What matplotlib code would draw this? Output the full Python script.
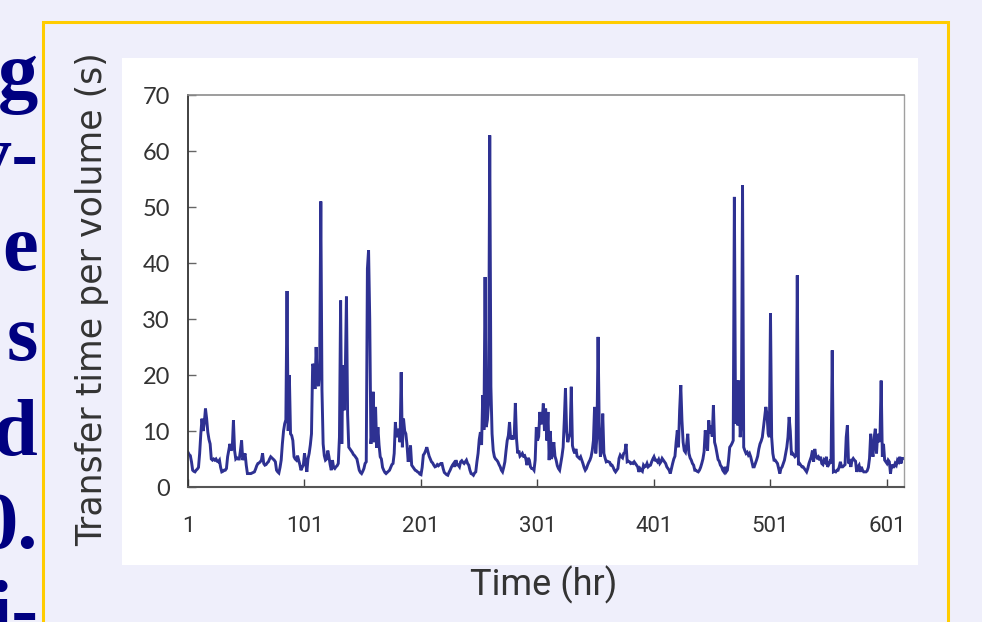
import numpy as np
import matplotlib
matplotlib.use("Agg")
import matplotlib.pyplot as plt
from matplotlib.patches import Rectangle

# transfer time per volume (s), one value per hour
hours_001_100 = [
    6.2, 5.8, 5.6, 4.5, 3.0, 2.8, 2.7, 3.0, 3.2, 3.5,
    6.0, 9.5, 12.2, 10.0, 11.5, 14.0, 12.2, 9.8, 8.5, 7.7,
    5.0, 4.8, 5.0, 4.8, 5.0, 4.6, 4.5, 4.8, 3.5, 2.7,
    2.8, 3.0, 3.0, 3.3, 5.4, 6.5, 7.7, 6.5, 7.0, 11.9,
    6.5, 5.0, 5.2, 5.0, 5.0, 6.5, 8.3, 4.8, 5.5, 6.0,
    3.9, 2.4, 2.4, 2.4, 2.4, 2.5, 2.6, 2.7, 3.2, 3.8,
    4.2, 4.3, 4.5, 4.8, 6.0, 4.2, 3.9, 4.0, 4.3, 4.5,
    5.0, 5.4, 5.2, 5.0, 4.8, 4.5, 3.0, 2.7, 2.5, 3.5,
    4.8, 7.7, 10.0, 11.3, 12.0, 35.0, 10.0, 20.0, 9.5, 9.2,
    8.3, 5.4, 5.0, 4.8, 5.6, 4.8, 4.0, 3.0, 3.5, 3.9,
]
hours_101_200 = [
    6.0, 4.5, 2.7, 5.0, 6.0, 7.5, 9.5, 22.0, 21.4, 17.5,
    25.0, 19.0, 18.0, 20.8, 51.0, 17.3, 7.7, 5.6, 4.8, 5.0,
    6.5, 5.4, 4.0, 3.0, 4.8, 3.5, 3.3, 3.6, 3.8, 4.2,
    8.9, 33.3, 7.7, 21.7, 13.7, 20.0, 34.0, 13.0, 7.1, 6.8,
    6.5, 6.2, 5.8, 5.6, 5.3, 5.0, 4.0, 3.0, 2.6, 2.4,
    2.8, 3.3, 4.2, 4.5, 39.0, 42.3, 30.0, 7.7, 10.0, 17.0,
    8.0, 14.3, 7.0, 10.7, 7.5, 5.4, 5.0, 3.5, 3.0, 2.6,
    2.4, 2.6, 2.8, 3.0, 3.5, 4.0, 4.2, 6.0, 11.6, 8.9,
    9.5, 10.4, 8.0, 20.5, 7.1, 12.2, 10.0, 9.5, 7.5, 4.5,
    5.5, 7.4, 3.9, 3.6, 3.3, 3.0, 2.9, 2.7, 2.6, 2.3,
]
hours_201_300 = [
    2.2, 3.5, 5.7, 6.0, 6.5, 7.1, 6.3, 5.5, 5.0, 4.5,
    4.3, 3.9, 3.6, 3.7, 4.0, 3.8, 4.0, 4.2, 4.2, 3.3,
    2.6, 2.4, 2.2, 2.1, 2.6, 3.0, 3.5, 3.9, 4.2, 3.6,
    4.8, 4.0, 3.9, 3.6, 4.5, 4.7, 4.4, 4.2, 4.5, 4.8,
    4.2, 3.9, 3.0, 2.4, 2.3, 2.1, 2.5, 2.7, 4.5, 6.0,
    8.5, 9.8, 7.5, 16.4, 10.2, 37.5, 10.7, 12.0, 15.0, 62.8,
    17.9, 9.5, 6.5, 5.4, 5.0, 4.8, 4.5, 4.0, 3.6, 3.0,
    2.7, 3.5, 4.5, 6.5, 8.3, 9.2, 11.6, 8.5, 9.2, 8.5,
    9.0, 15.0, 8.6, 6.0, 6.5, 5.5, 5.7, 6.0, 5.5, 5.6,
    5.0, 3.9, 5.2, 4.8, 3.6, 3.3, 3.3, 3.0, 4.8, 10.7,
]
hours_301_400 = [
    8.3, 9.0, 13.4, 11.2, 11.8, 14.9, 10.0, 14.0, 8.3, 13.4,
    4.8, 10.0, 5.0, 6.0, 8.0, 5.5, 4.8, 3.8, 3.3, 3.0,
    4.2, 5.5, 7.1, 11.9, 17.6, 10.0, 8.0, 8.9, 9.5, 17.9,
    7.4, 6.5, 6.0, 6.8, 5.5, 5.3, 5.1, 5.4, 4.8, 4.2,
    3.5, 3.0, 3.3, 3.9, 4.4, 4.8, 5.4, 6.5, 8.3, 14.3,
    6.0, 9.0, 26.8, 10.7, 5.4, 7.0, 13.1, 6.0, 5.2, 4.5,
    4.6, 4.5, 4.4, 3.9, 3.9, 3.5, 3.0, 2.7, 3.0, 3.3,
    5.1, 5.7, 5.4, 5.2, 6.0, 6.2, 7.7, 4.5, 4.6, 4.5,
    4.2, 4.3, 4.2, 4.5, 4.2, 3.9, 3.6, 2.7, 3.3, 3.0,
    2.8, 3.9, 3.6, 3.7, 4.2, 3.6, 3.8, 3.9, 4.5, 5.0,
]
hours_401_500 = [
    5.4, 4.8, 4.8, 4.5, 4.9, 4.2, 4.5, 5.1, 4.8, 4.5,
    4.2, 3.6, 3.3, 3.0, 2.4, 3.3, 4.2, 5.0, 5.5, 8.0,
    10.1, 7.1, 13.7, 18.2, 11.9, 8.0, 6.5, 6.2, 7.5, 9.5,
    6.0, 5.2, 4.8, 4.2, 3.9, 3.0, 3.0, 2.8, 2.7, 3.0,
    3.5, 4.2, 5.0, 6.3, 10.1, 8.0, 6.5, 11.9, 9.5, 11.0,
    9.0, 14.6, 8.0, 7.2, 6.0, 4.9, 4.6, 3.9, 3.6, 3.0,
    2.7, 3.6, 2.7, 3.0, 4.8, 7.1, 7.4, 7.8, 8.3, 51.8,
    11.3, 19.0, 11.0, 19.0, 8.9, 12.0, 53.9, 7.1, 6.5, 6.0,
    6.2, 5.7, 6.0, 5.4, 4.5, 3.6, 3.6, 4.2, 4.8, 5.5,
    6.8, 7.7, 8.2, 8.9, 10.7, 12.5, 14.3, 13.0, 9.5, 8.9,
]
hours_501_600 = [
    31.0, 8.9, 6.0, 4.8, 4.8, 4.5, 4.2, 3.3, 2.4, 3.3,
    3.6, 4.2, 4.8, 6.0, 7.1, 8.9, 12.5, 10.0, 5.7, 6.0,
    5.7, 5.4, 5.6, 37.8, 3.9, 4.2, 3.9, 3.6, 3.6, 3.3,
    3.0, 2.7, 3.3, 4.2, 4.8, 5.4, 6.5, 4.5, 6.8, 5.5,
    5.2, 5.4, 4.8, 5.4, 4.2, 4.0, 4.8, 4.5, 5.4, 3.6,
    4.0, 4.5, 4.2, 24.4, 2.7, 2.8, 2.7, 3.0, 3.0, 3.6,
    4.5, 3.6, 3.6, 3.8, 4.0, 8.9, 11.0, 4.2, 4.5, 3.6,
    4.8, 5.1, 4.8, 4.6, 2.7, 3.6, 3.9, 2.7, 3.6, 3.0,
    2.7, 2.7, 2.7, 2.9, 3.5, 5.1, 9.5, 6.5, 5.4, 8.9,
    10.4, 6.0, 9.5, 8.0, 9.0, 19.0, 5.4, 7.7, 4.8, 4.5,
]
hours_601_615 = [
    4.2, 4.8, 4.5, 2.4, 4.0, 3.6, 3.6, 4.2, 3.9, 4.8,
    4.5, 5.4, 4.2, 5.1, 5.1,
]

transfer = (hours_001_100 + hours_101_200 + hours_201_300 + hours_301_400
            + hours_401_500 + hours_501_600 + hours_601_615)
hours = np.arange(1, len(transfer) + 1)

x_ticks = [1, 101, 201, 301, 401, 501, 601]
y_ticks = [0, 10, 20, 30, 40, 50, 60, 70]

# words of the slide text that are cut off at the left edge
side_text = ["g", "v-", "e", "s", "d", "0.", "i-"]
side_base = [98, 180, 270, 360, 455, 548, 636]

W, H = 982, 622
fig = plt.figure(figsize=(W / 100, H / 100), dpi=100)
fig.patch.set_facecolor("#efeffb")

# yellow frame and white chart area
fig.add_artist(Rectangle((43 / W, -0.1), 905 / W, 0.1 + 1 - 22 / H,
                         transform=fig.transFigure, fill=False,
                         edgecolor="#ffcc00", lw=2.2, zorder=0))
fig.add_artist(Rectangle((122 / W, 1 - 565 / H), 796 / W, 507 / H,
                         transform=fig.transFigure, facecolor="white",
                         edgecolor="none", zorder=0))

for txt, yb in zip(side_text, side_base):
    fig.text(38 / W, 1 - yb / H, txt, ha="right", va="baseline",
             family=["Liberation Serif", "DejaVu Serif"], weight="bold",
             fontsize=58, color="#000080")

ax = fig.add_axes([188 / W, 1 - 487 / H, 716 / W, 392 / H])
ax.set_facecolor("white")
ax.plot(hours, transfer, color="#2e3192", lw=2.1, solid_joinstyle="miter")

ax.set_xlim(1, 615.6)
ax.set_ylim(0, 70)
ax.set_xticks(x_ticks)
ax.set_yticks(y_ticks)

ax.spines["left"].set_color("#333333")
ax.spines["left"].set_linewidth(1.3)
ax.spines["bottom"].set_color("#555555")
ax.spines["bottom"].set_linewidth(1.5)
ax.spines["top"].set_color("#8c8c8c")
ax.spines["top"].set_linewidth(1.2)
ax.spines["right"].set_color("#a0a0a0")
ax.spines["right"].set_linewidth(1.0)

ax.tick_params(axis="y", direction="in", length=6, width=1, color="#666666",
               pad=13, labelsize=17, labelcolor="#333333")
ax.tick_params(axis="x", direction="in", length=6, width=1, color="#444444",
               pad=21, labelsize=16, labelcolor="#333333")
for lab in ax.get_yticklabels():
    lab.set_family(["Lato", "DejaVu Sans"])
for lab in ax.get_xticklabels():
    lab.set_family(["Roboto", "DejaVu Sans"])

ax.set_ylabel("Transfer time per volume (s)", fontsize=25, color="#333333",
              family=["DejaVu Sans"])
ax.yaxis.set_label_coords(-0.11, 0.48)
ax.set_xlabel("Time (hr)", fontsize=26, color="#333333",
              family=["Roboto", "DejaVu Sans"], va="center")
ax.xaxis.set_label_coords(0.497, -0.25)

fig.savefig("out.png", dpi=100, facecolor=fig.get_facecolor())
